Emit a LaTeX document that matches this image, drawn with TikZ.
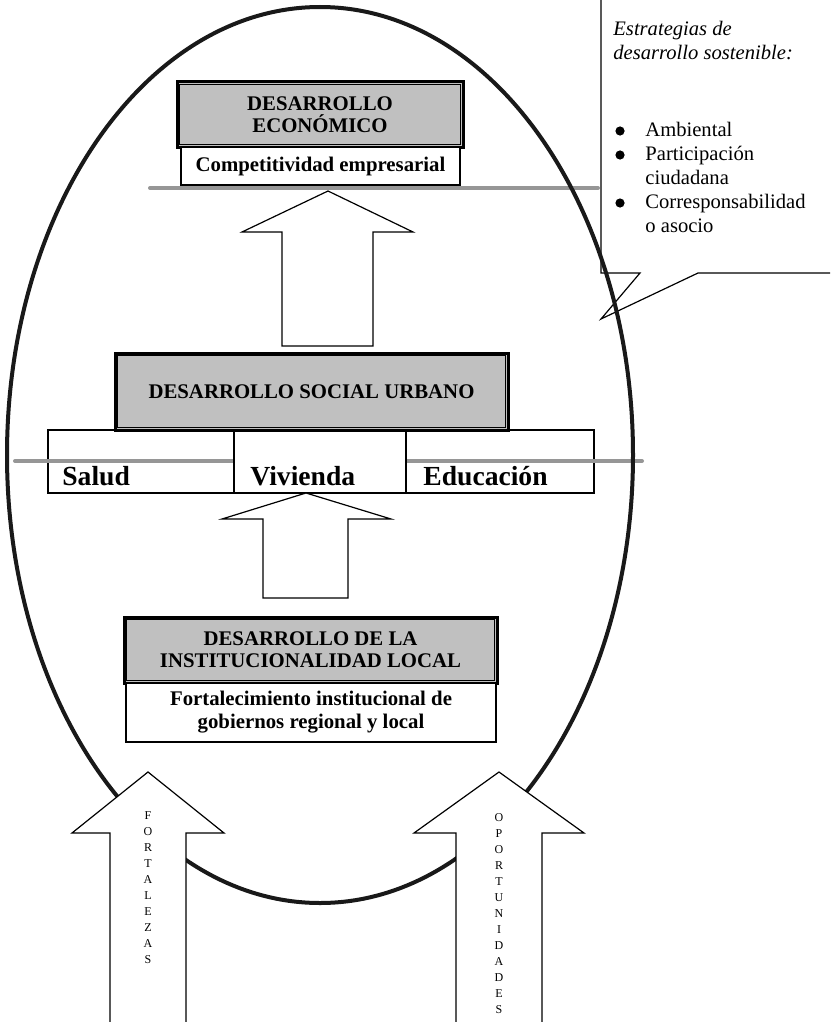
\documentclass[tikz,border=0pt]{standalone}
\usepackage{fontspec}
\setmainfont{Liberation Serif}
\definecolor{boxgray}{RGB}{192,192,192}
\definecolor{rulegray}{RGB}{150,150,150}
\begin{document}
\begin{tikzpicture}[x=0.5pt,y=-0.5pt,
  titlebox/.style={draw,line width=1.5pt,fill=boxgray,inner sep=0pt,align=center,
    font=\fontsize{10.4}{11}\selectfont\bfseries},
  subbox/.style={draw,line width=1pt,fill=white,inner sep=0pt,align=center,
    font=\fontsize{10.4}{11.5}\selectfont\bfseries},
  rowbox/.style={draw,line width=1.1pt,fill=white,inner sep=0pt},
  rowtext/.style={anchor=base west,inner sep=0pt,font=\fontsize{13.8}{16}\selectfont\bfseries},
  guide/.style={line width=2pt,draw=rulegray,line cap=round},
  bigarrow/.style={draw,line width=0.6pt,fill=white,line join=miter},
  vtext/.style={anchor=north,inner sep=0pt,align=center,font=\fontsize{6}{8}\selectfont},
  innerline/.style={line width=0.5pt},
  dot/.style={circle,fill=black,inner sep=0pt,minimum size=4.6pt}
]
\useasboundingbox (0,0) rectangle (830,1022);
\clip (0,0) rectangle (830,1022);

% speech bubble with the sustainability strategies
\path[draw,line width=0.6pt,fill=white] (601,-10) -- (601,273) -- (640,273) -- (601,319)
  -- (698,273) -- (840,273) -- (840,-10) -- cycle;
\node[anchor=north west,inner sep=0pt,align=left,
      font=\fontsize{10.3}{12}\selectfont] (strat) at (613,21)
  {\textit{Estrategias de}\\
   \textit{desarrollo sostenible:}\\[26.5pt]
   \hspace*{16pt}Ambiental\\
   \hspace*{16pt}Participación\\
   \hspace*{16pt}ciudadana\\
   \hspace*{16pt}Corresponsabilidad\\
   \hspace*{16pt}o asocio};
% list bullets
\node[dot] (b1) at (620,131) {};
\node[dot] (b2) at (620,155) {};
\node[dot] (b3) at (620,203) {};

% social row: health, housing, education
\node[rowbox,minimum width=93pt,minimum height=31.5pt] (salud) at (141,461.5) {};
\node[rowbox,minimum width=94pt,minimum height=31.5pt] (educ) at (500,461.5) {};
\draw[guide] (15,461) -- (642,461);
\draw[guide] (150,188) -- (598,188);
\node[rowbox,line width=1.3pt,minimum width=86pt,minimum height=31pt] (viv) at (320,462) {};
\node[rowtext] (saludtxt) at (62,485) {Salud};
\node[rowtext] (vivtxt) at (250,485) {Vivienda};
\node[rowtext] (eductxt) at (423,485) {Educación};

% the enclosing oval
\draw[line width=2pt,draw=black!90] (320,455) ellipse [x radius=313, y radius=448];

% block arrows between levels
\draw[bigarrow] (328,191) -- (413,232) -- (373,232) -- (373,346) -- (282,346)
  -- (282,232) -- (242,232) -- cycle;
\draw[bigarrow] (306,493) -- (391,519) -- (348,519) -- (348,598) -- (263,598)
  -- (263,519) -- (222,519) -- cycle;
\draw[bigarrow] (110,1040) -- (110,833) -- (72,833) -- (148,772) -- (224,833)
  -- (186,833) -- (186,1040);
\draw[bigarrow] (456,1040) -- (456,833) -- (414,833) -- (499,772) -- (584,833)
  -- (542,833) -- (542,1040);
\node[vtext] (fort) at (148,811) {F\\O\\R\\T\\A\\L\\E\\Z\\A\\S};
\node[vtext] (oport) at (499,813) {O\\P\\O\\R\\T\\U\\N\\I\\D\\A\\D\\E\\S};

% economic level
\node[titlebox,minimum width=143pt,minimum height=32.5pt] (eco) at (320,114.5)
  {DESARROLLO\\ECONÓMICO};
\draw[innerline] ([shift={(2.2pt,-2.2pt)}]eco.north west) rectangle ([shift={(-2.2pt,2.2pt)}]eco.south east);
\node[subbox,minimum width=139.5pt,minimum height=19pt] (comp) at (320.5,166)
  {Competitividad empresarial};

% social level
\node[titlebox,minimum width=196.5pt,minimum height=38.5pt] (soc) at (311.5,391.5)
  {DESARROLLO SOCIAL URBANO};
\draw[innerline] ([shift={(2.2pt,-2.2pt)}]soc.north west) rectangle ([shift={(-2.2pt,2.2pt)}]soc.south east);

% institutional level
\node[titlebox,minimum width=186.5pt,minimum height=33pt] (inst) at (310.5,650)
  {DESARROLLO DE LA\\INSTITUCIONALIDAD LOCAL};
\draw[innerline] ([shift={(2.2pt,-2.2pt)}]inst.north west) rectangle ([shift={(-2.2pt,2.2pt)}]inst.south east);
\node[subbox,minimum width=185pt,minimum height=29.5pt] (fort2) at (311,712.5)
  {Fortalecimiento institucional de\\gobiernos regional y local};
\end{tikzpicture}
\end{document}
